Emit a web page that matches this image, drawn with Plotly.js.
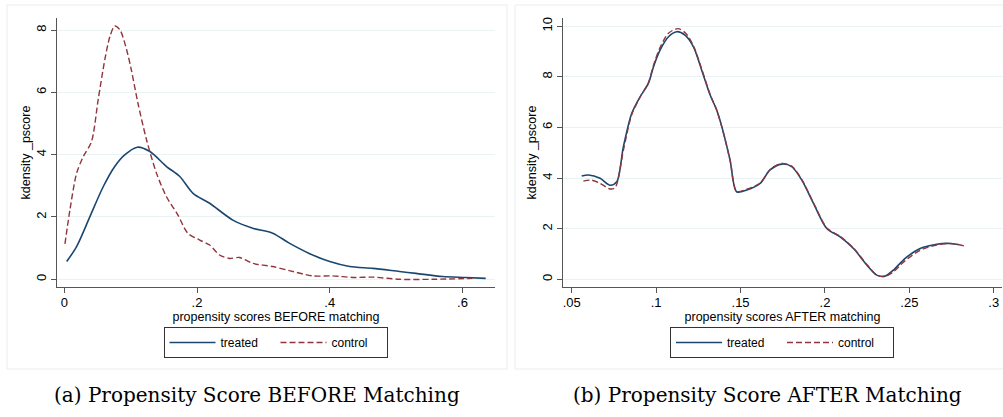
<!DOCTYPE html>
<html>
<head>
<meta charset="utf-8">
<script src="https://cdn.plot.ly/plotly-3.0.1.min.js"></script>
<style>html,body{margin:0;padding:0;background:#fff;}#chart{width:1003px;height:417px;}</style>
</head>
<body>
<div id="chart"></div>
<script>
// ---- Panel (a): BEFORE matching ----
var beforeTreatedX = [0.0036, 0.0185, 0.0386, 0.0586, 0.076, 0.091, 0.110, 0.129, 0.154, 0.174, 0.194, 0.219, 0.254, 0.284, 0.314, 0.339, 0.369, 0.400, 0.430, 0.465, 0.505, 0.530, 0.570, 0.605, 0.635];
var beforeTreatedY = [0.57, 1.05, 2.01, 2.97, 3.62, 3.99, 4.24, 4.10, 3.62, 3.30, 2.76, 2.44, 1.90, 1.64, 1.48, 1.16, 0.83, 0.57, 0.41, 0.35, 0.25, 0.19, 0.09, 0.06, 0.03];
var beforeControlX = [0.001, 0.0085, 0.0185, 0.0286, 0.041, 0.051, 0.061, 0.0687, 0.076, 0.084, 0.094, 0.101, 0.111, 0.124, 0.139, 0.154, 0.171, 0.186, 0.204, 0.219, 0.234, 0.249, 0.264, 0.284, 0.314, 0.339, 0.374, 0.404, 0.435, 0.465, 0.505, 0.555, 0.615];
var beforeControlY = [1.14, 2.23, 3.40, 3.94, 4.42, 5.76, 7.04, 7.79, 8.13, 8.00, 7.36, 6.72, 5.65, 4.47, 3.40, 2.65, 2.07, 1.48, 1.26, 1.10, 0.78, 0.67, 0.70, 0.51, 0.41, 0.28, 0.11, 0.11, 0.06, 0.07, 0.00, 0.00, 0.03];

// ---- Panel (b): AFTER matching ----
var afterTreatedX = [0.0559, 0.0599, 0.0668, 0.0727, 0.0767, 0.0806, 0.0855, 0.0905, 0.0954, 0.0984, 0.1023, 0.1073, 0.1122, 0.1171, 0.1221, 0.1270, 0.1320, 0.1359, 0.1389, 0.1438, 0.1477, 0.1537, 0.1616, 0.1675, 0.1744, 0.1803, 0.1863, 0.1932, 0.2011, 0.2090, 0.2169, 0.2248, 0.2307, 0.2356, 0.2406, 0.2475, 0.2564, 0.2662, 0.2741, 0.2789];
var afterTreatedY = [4.08, 4.12, 3.99, 3.72, 3.86, 5.24, 6.55, 7.21, 7.74, 8.39, 9.05, 9.58, 9.78, 9.64, 9.18, 8.26, 7.28, 6.68, 6.03, 4.71, 3.46, 3.53, 3.79, 4.32, 4.55, 4.45, 3.92, 3.00, 2.01, 1.68, 1.22, 0.57, 0.17, 0.13, 0.37, 0.83, 1.22, 1.39, 1.42, 1.38];
var afterControlX = [0.0569, 0.0618, 0.0668, 0.0727, 0.0757, 0.0806, 0.0855, 0.0905, 0.0954, 0.0984, 0.1023, 0.1073, 0.1130, 0.1175, 0.1221, 0.1270, 0.1320, 0.1359, 0.1389, 0.1438, 0.1477, 0.1537, 0.1616, 0.1675, 0.1744, 0.1803, 0.1863, 0.1932, 0.2011, 0.2090, 0.2169, 0.2248, 0.2307, 0.2356, 0.2406, 0.2475, 0.2564, 0.2662, 0.2741, 0.2824];
var afterControlY = [3.88, 3.92, 3.79, 3.57, 3.62, 5.10, 6.50, 7.20, 7.76, 8.45, 9.15, 9.72, 9.90, 9.72, 9.22, 8.30, 7.30, 6.68, 6.02, 4.70, 3.48, 3.56, 3.80, 4.34, 4.58, 4.47, 3.94, 3.02, 2.03, 1.70, 1.24, 0.59, 0.17, 0.12, 0.30, 0.74, 1.15, 1.36, 1.42, 1.32];

var seriesNames = ['treated', 'control'];
var captions = ['(a) Propensity Score BEFORE Matching', '(b) Propensity Score AFTER Matching'];
var xTitles = ['propensity scores BEFORE matching', 'propensity scores AFTER matching'];
var yTitle = 'kdensity _pscore';
var beforeXTicks = [0, 0.2, 0.4, 0.6];
var beforeXTickText = ['0', '.2', '.4', '.6'];
var afterXTicks = [0.05, 0.1, 0.15, 0.2, 0.25, 0.3];
var afterXTickText = ['.05', '.1', '.15', '.2', '.25', '.3'];
var beforeYTicks = [0, 2, 4, 6, 8];
var afterYTicks = [0, 2, 4, 6, 8, 10];

var BLUE = '#1a476f', RED = '#90353b';
var W = 1003, H = 417;
function px(x){ return x / W; }
function py(y){ return 1 - y / H; }

var solid = {color: BLUE, width: 1.6, shape: 'spline', smoothing: 0.8};
var dashed = {color: RED, width: 1.4, dash: '6px,3px', shape: 'spline', smoothing: 0.8};

var traces = [
  {x: beforeTreatedX, y: beforeTreatedY, name: seriesNames[0], mode: 'lines', line: solid, xaxis: 'x', yaxis: 'y', legend: 'legend'},
  {x: beforeControlX, y: beforeControlY, name: seriesNames[1], mode: 'lines', line: dashed, xaxis: 'x', yaxis: 'y', legend: 'legend'},
  {x: afterTreatedX, y: afterTreatedY, name: seriesNames[0], mode: 'lines', line: solid, xaxis: 'x2', yaxis: 'y2', legend: 'legend2'},
  {x: afterControlX, y: afterControlY, name: seriesNames[1], mode: 'lines', line: dashed, xaxis: 'x2', yaxis: 'y2', legend: 'legend2'}
];

var AX = '#555555';
var tickFont = {family: 'Liberation Sans, Arial, sans-serif', size: 13, color: '#000'};
var titleFont = {family: 'Liberation Sans, Arial, sans-serif', size: 12.5, color: '#000'};

function xAxis(domain, range, tv, tt, title, anchor){
  return {domain: domain, range: range, tickvals: tv, ticktext: tt, anchor: anchor,
    showline: true, linecolor: AX, linewidth: 1, ticks: 'outside', ticklen: 5, tickcolor: AX, tickwidth: 1,
    showgrid: false, zeroline: false, tickfont: tickFont, ticklabelstandoff: -2,
    title: {text: title, font: titleFont, standoff: 0}, automargin: false, fixedrange: true};
}
function yAxis(domain, range, tv, anchor){
  return {domain: domain, range: range, tickvals: tv, anchor: anchor, tickangle: -90,
    showline: true, linecolor: AX, linewidth: 1, ticks: 'outside', ticklen: 5, tickcolor: AX, tickwidth: 1,
    showgrid: true, gridcolor: '#eaf2f3', gridwidth: 1, zeroline: false, tickfont: tickFont,
    title: {text: yTitle, font: titleFont, standoff: 0}, automargin: false, fixedrange: true};
}

function legendCfg(xc){
  return {orientation: 'h', x: xc, xanchor: 'center', y: py(327), yanchor: 'top',
    bordercolor: '#333333', borderwidth: 1, bgcolor: '#ffffff', itemwidth: 46, entrywidth: 50,
    tracegroupgap: 0, valign: 'middle',
    font: {family: 'Liberation Sans, Arial, sans-serif', size: 12, color: '#000'},
    itemclick: false, itemdoubleclick: false};
}

var layout = {
  width: W, height: H,
  margin: {l: 0, r: 0, t: 0, b: 0},
  paper_bgcolor: '#ffffff', plot_bgcolor: '#ffffff',
  showlegend: true,
  xaxis: xAxis([px(57), px(495)], [-0.011, 0.649], beforeXTicks, beforeXTickText, xTitles[0], 'y'),
  yaxis: yAxis([py(287), py(18)], [-0.247, 8.386], beforeYTicks, 'x'),
  xaxis2: xAxis([px(563.3), px(1001.7)], [0.045, 0.3047], afterXTicks, afterXTickText, xTitles[1], 'y2'),
  yaxis2: yAxis([py(287), py(18)], [-0.30, 10.32], afterYTicks, 'x2'),
  legend: legendCfg(px(275.5)),
  legend2: legendCfg(px(782)),
  shapes: [
    {type: 'rect', xref: 'paper', yref: 'paper', x0: px(7), x1: px(507), y0: py(369), y1: py(5), line: {color: '#e6eef0', width: 1}, layer: 'below'},
    {type: 'rect', xref: 'paper', yref: 'paper', x0: px(515), x1: px(1010), y0: py(369), y1: py(5), line: {color: '#e6eef0', width: 1}, layer: 'below'}
  ],
  annotations: [
    {text: captions[0], xref: 'paper', yref: 'paper', x: px(256.5), y: py(395), xanchor: 'center', yanchor: 'middle', showarrow: false,
     font: {family: 'DejaVu Serif, serif', size: 20, color: '#000'}},
    {text: captions[1], xref: 'paper', yref: 'paper', x: px(767), y: py(395), xanchor: 'center', yanchor: 'middle', showarrow: false,
     font: {family: 'DejaVu Serif, serif', size: 20, color: '#000'}}
  ]
};

Plotly.newPlot('chart', traces, layout, {displayModeBar: false, staticPlot: true});
</script>
</body>
</html>
